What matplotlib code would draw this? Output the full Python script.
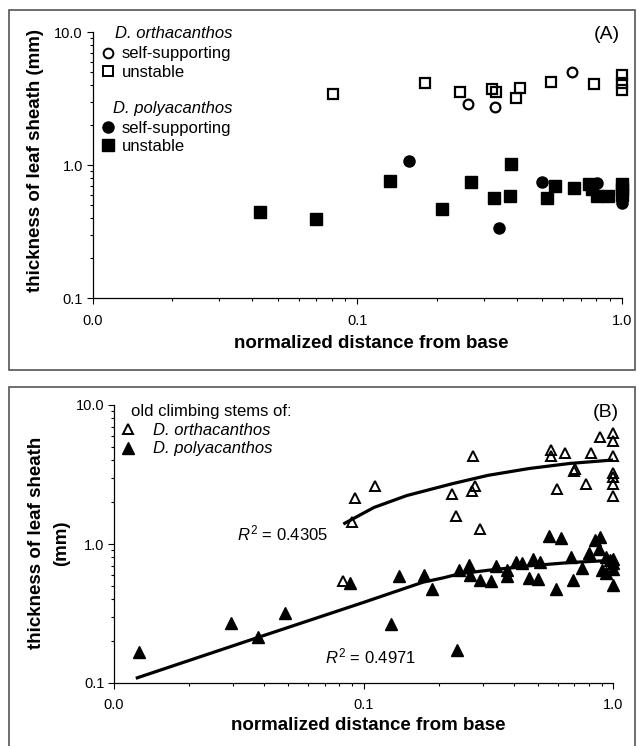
import matplotlib
matplotlib.use("Agg")
import matplotlib.pyplot as plt
from matplotlib.lines import Line2D
from matplotlib.patches import Rectangle
from matplotlib.ticker import LogLocator, FuncFormatter, NullFormatter

plt.rcParams["font.family"] = ["Liberation Sans", "DejaVu Sans"]
plt.rcParams["mathtext.fontset"] = "custom"
plt.rcParams["mathtext.rm"] = "Liberation Sans"
plt.rcParams["mathtext.it"] = "Liberation Sans:italic"

# ---- panel A data (normalized distance, sheath thickness in mm) ----
orth_ss_x = [0.262, 0.331, 0.649]
orth_ss_y = [2.87, 2.76, 5.05]
orth_un_x = [0.081, 0.180, 0.244, 0.324, 0.333, 0.397, 0.410, 0.539, 0.785, 1.0, 1.0, 1.0]
orth_un_y = [3.42, 4.14, 3.58, 3.73, 3.58, 3.19, 3.79, 4.25, 4.06, 4.77, 4.14, 3.68]
poly_ss_x = [0.157, 0.344, 0.497, 0.802, 1.0]
poly_ss_y = [1.08, 0.34, 0.745, 0.73, 0.52]
poly_un_x = [0.0427, 0.070, 0.133, 0.208, 0.268, 0.328, 0.380, 0.378, 0.519, 0.558,
             0.660, 0.750, 0.767, 0.802, 0.882, 1.0, 1.0, 1.0]
poly_un_y = [0.449, 0.398, 0.762, 0.467, 0.745, 0.571, 1.017, 0.588, 0.571, 0.699,
             0.672, 0.72, 0.662, 0.588, 0.588, 0.72, 0.66, 0.60]

# ---- panel B data: old climbing stems ----
orth_old_x = [0.0924, 0.111, 0.0897, 0.0825, 0.226, 0.234, 0.274, 0.272, 0.281, 0.294,
              0.562, 0.562, 0.595, 0.644, 0.706, 0.700, 0.776, 0.818, 0.886,
              1.0, 1.0, 1.0, 1.0, 1.0, 1.0, 1.0]
orth_old_y = [2.14, 2.61, 1.445, 0.54, 2.29, 1.59, 4.3, 2.42, 2.61, 1.29,
              4.76, 4.3, 2.49, 4.5, 3.49, 3.35, 2.68, 4.55, 5.89,
              6.3, 5.48, 4.3, 3.25, 3.04, 2.71, 2.23]
poly_old_x = [0.01254, 0.0295, 0.0377, 0.0486, 0.0886, 0.129, 0.139, 0.175, 0.189, 0.236,
              0.2415, 0.264, 0.267, 0.294, 0.323, 0.339, 0.376, 0.376, 0.409, 0.430,
              0.462, 0.480, 0.508, 0.500, 0.553, 0.590, 0.620, 0.681, 0.694, 0.753,
              0.798, 0.844, 0.886, 0.875, 0.905, 0.935, 0.940, 0.970, 1.0, 1.0, 1.0, 1.0]
poly_old_y = [0.168, 0.2705, 0.2125, 0.32, 0.525, 0.266, 0.585, 0.595, 0.474, 0.173,
              0.647, 0.711, 0.595, 0.547, 0.54, 0.692, 0.647, 0.585, 0.745, 0.725,
              0.569, 0.779, 0.745, 0.56, 1.135, 0.474, 1.11, 0.81, 0.55, 0.673,
              0.866, 1.07, 1.12, 0.917, 0.647, 0.62, 0.81, 0.77, 0.73, 0.66, 0.51, 0.78]

# trend curves
orth_fit_x = [0.0841, 0.11, 0.149, 0.226, 0.316, 0.46, 0.673, 1.0]
orth_fit_y = [1.41, 1.83, 2.23, 2.71, 3.12, 3.49, 3.80, 4.02]
poly_fit_x = [0.0124, 0.0377, 0.1, 0.173, 0.209, 0.243, 0.316, 0.46, 0.673, 1.0]
poly_fit_y = [0.109, 0.2125, 0.38, 0.531, 0.571, 0.611, 0.647, 0.696, 0.736, 0.763]

W, H = 639, 746
fig = plt.figure(figsize=(W / 100, H / 100), dpi=100)


def box(l, t, r, b):
    return [l / W, 1 - b / H, (r - l) / W, (b - t) / H]


axA = fig.add_axes(box(92.7, 32.3, 622, 298.3))
axB = fig.add_axes(box(114, 405, 613, 683))

# panel frames
for t, b in [(10, 370), (387, 760)]:
    fig.patches.append(Rectangle((9 / W, 1 - b / H), (635 - 9) / W, (b - t) / H,
                                 transform=fig.transFigure, fill=False,
                                 edgecolor="#555555", linewidth=1.2))

for ax in (axA, axB):
    ax.set_xscale("log")
    ax.set_yscale("log")
    ax.set_xlim(0.01, 1)
    ax.set_ylim(0.1, 10)
    ax.spines["top"].set_visible(False)
    ax.spines["right"].set_visible(False)
    ax.spines["left"].set_linewidth(0.9)
    ax.spines["bottom"].set_linewidth(0.9)
    fmt = FuncFormatter(lambda v, _: f"{v:.1f}")
    ax.xaxis.set_major_locator(LogLocator(base=10, numticks=5))
    ax.yaxis.set_major_locator(LogLocator(base=10, numticks=5))
    ax.xaxis.set_major_formatter(fmt)
    ax.yaxis.set_major_formatter(fmt)
    ax.xaxis.set_minor_formatter(NullFormatter())
    ax.yaxis.set_minor_formatter(NullFormatter())
    ax.tick_params(which="major", length=4, width=0.8, labelsize=10.5)
    ax.tick_params(which="minor", length=2.5, width=0.8)
    ax.tick_params(axis="x", which="major", pad=7)
    ax.tick_params(axis="y", which="major", pad=3)

# ---- panel A ----
axA.plot(orth_ss_x, orth_ss_y, "o", ms=7, mfc="none", mec="black", mew=1.6, clip_on=False)
axA.plot(orth_un_x, orth_un_y, "s", ms=7, mfc="none", mec="black", mew=1.6, clip_on=False)
axA.plot(poly_ss_x, poly_ss_y, "o", ms=8, color="black", clip_on=False)
axA.plot(poly_un_x, poly_un_y, "s", ms=8.5, color="black", clip_on=False)

axA.text(0.042, 0.997, "D. orthacanthos", style="italic", fontsize=12,
         transform=axA.transAxes, ha="left", va="center")
axA.text(0.038, 0.715, "D. polyacanthos", style="italic", fontsize=12,
         transform=axA.transAxes, ha="left", va="center")
legA1 = axA.legend(
    [Line2D([], [], ls="none", marker="o", ms=7, mfc="none", mec="black", mew=1.4),
     Line2D([], [], ls="none", marker="s", ms=7, mfc="none", mec="black", mew=1.4)],
    ["self-supporting", "unstable"], loc="upper left", bbox_to_anchor=(0.016, 0.947),
    frameon=False, fontsize=12, borderpad=0, borderaxespad=0, handlelength=0.8,
    handletextpad=0.44, labelspacing=0.2)
axA.add_artist(legA1)
axA.legend(
    [Line2D([], [], ls="none", marker="o", ms=8, color="black"),
     Line2D([], [], ls="none", marker="s", ms=8, color="black")],
    ["self-supporting", "unstable"], loc="upper left", bbox_to_anchor=(0.016, 0.668),
    frameon=False, fontsize=12, borderpad=0, borderaxespad=0, handlelength=0.8,
    handletextpad=0.44, labelspacing=0.2)
axA.text(0.972, 0.99, "(A)", fontsize=14, transform=axA.transAxes, ha="center", va="center")

fig.text(36 / W, 1 - 160 / H, "thickness of leaf sheath (mm)", rotation=90,
         fontsize=13.5, fontweight="bold", ha="center", va="center")
fig.text(371 / W, 1 - 343 / H, "normalized distance from base",
         fontsize=13.5, fontweight="bold", ha="center", va="center")

# ---- panel B ----
axB.plot(orth_fit_x, orth_fit_y, "-", color="black", lw=2.3)
axB.plot(poly_fit_x, poly_fit_y, "-", color="black", lw=2.3)
axB.plot(orth_old_x, orth_old_y, "^", ms=7.5, mfc="none", mec="black", mew=1.4, clip_on=False)
axB.plot(poly_old_x, poly_old_y, "^", ms=8.5, color="black", clip_on=False)

axB.text(0.035, 0.978, "old climbing stems of:", fontsize=12,
         transform=axB.transAxes, ha="left", va="center")
axB.legend(
    [Line2D([], [], ls="none", marker="^", ms=7.5, mfc="none", mec="black", mew=1.4),
     Line2D([], [], ls="none", marker="^", ms=8.5, color="black")],
    ["D. orthacanthos", "D. polyacanthos"], loc="upper left",
    bbox_to_anchor=(0.011, 0.935), frameon=False, fontsize=12, borderpad=0,
    borderaxespad=0, handlelength=1.0, handletextpad=1.0, labelspacing=0.2,
    prop={"style": "italic", "size": 12})
axB.text(0.986, 0.972, "(B)", fontsize=14, transform=axB.transAxes, ha="center", va="center")

axB.text(0.0312, 1.20, r"$R^2$ = 0.4305", fontsize=12, ha="left", va="center")
axB.text(0.0701, 0.154, r"$R^2$ = 0.4971", fontsize=12, ha="left", va="center")

fig.text(37 / W, 1 - 543 / H, "thickness of leaf sheath", rotation=90,
         fontsize=13.5, fontweight="bold", ha="center", va="center")
fig.text(62 / W, 1 - 543 / H, "(mm)", rotation=90,
         fontsize=13.5, fontweight="bold", ha="center", va="center")
fig.text(368 / W, 1 - 725 / H, "normalized distance from base",
         fontsize=13.5, fontweight="bold", ha="center", va="center")

fig.savefig("out.png", dpi=100)
